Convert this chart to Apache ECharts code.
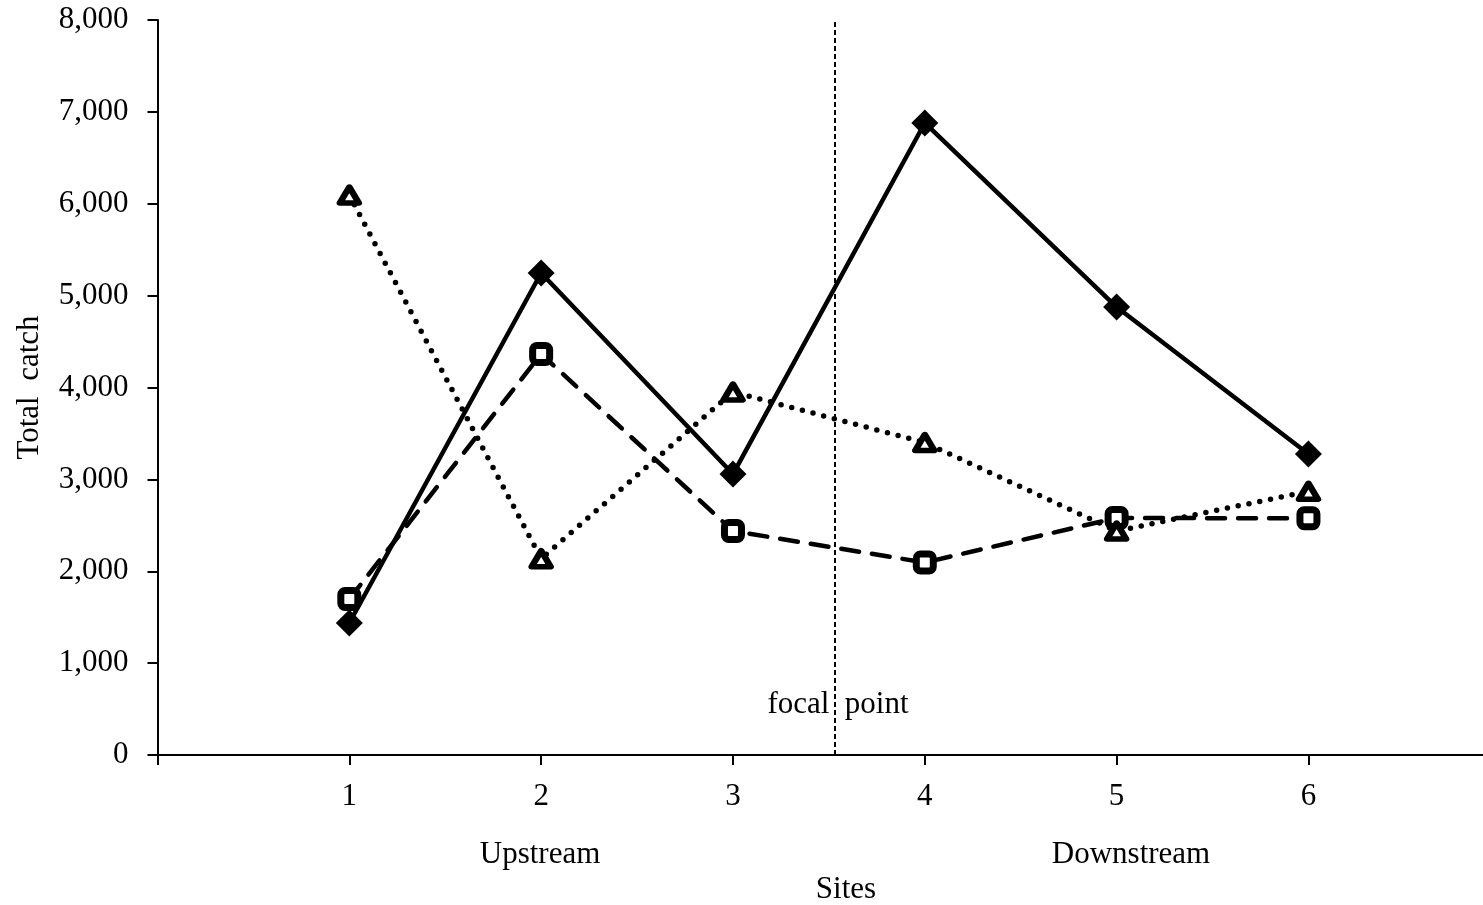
<!DOCTYPE html>
<html>
<head>
<meta charset="utf-8">
<script src="https://cdn.jsdelivr.net/npm/echarts@6/dist/echarts.min.js"></script>
<style>
html,body{margin:0;padding:0;background:#fff;}
#c{width:1483px;height:905px;}
</style>
</head>
<body>
<div id="c"></div>
<script>
const sites = [1, 2, 3, 4, 5, 6];
const diamondValues = [1437, 5246, 3058, 6879, 4876, 3276];
const squareValues = [1698, 4365, 2438, 2095, 2580, 2576];
const triangleValues = [6095, 2137, 3951, 3401, 2438, 2870];
const focalSite = 3.53;
const yTicks = [0, 1000, 2000, 3000, 4000, 5000, 6000, 7000, 8000];

const FONT = 'Liberation Serif';
const pairs = vals => sites.map((s, i) => [s, vals[i]]);

const chart = echarts.init(document.getElementById('c'), null, {renderer: 'canvas'});
chart.setOption({
  backgroundColor: '#fff',
  animation: false,
  grid: {left: 157.5, right: 0, top: 20, bottom: 150, containLabel: false},
  xAxis: {
    type: 'value', min: 0, max: 6.91, interval: 1,
    splitLine: {show: false},
    axisLine: {lineStyle: {color: '#000', width: 2}},
    axisTick: {lineStyle: {color: '#000', width: 2}, length: 10},
    axisLabel: {
      color: '#000', fontFamily: FONT, fontSize: 31, margin: 26,
      showMaxLabel: false,
      formatter: v => (v >= 1 && v <= 6 && Number.isInteger(v)) ? String(v) : ''
    }
  },
  yAxis: {
    type: 'value', min: yTicks[0], max: yTicks[yTicks.length - 1], interval: 1000,
    splitLine: {show: false},
    axisLine: {show: true, lineStyle: {color: '#000', width: 2}},
    axisTick: {show: true, lineStyle: {color: '#000', width: 2}, length: 10},
    axisLabel: {
      color: '#000', fontFamily: FONT, fontSize: 31, margin: 29,
      padding: [6, 0, 0, 0],
      formatter: v => v.toLocaleString('en-US')
    },
    name: 'Total  catch', nameLocation: 'middle', nameRotate: 90, nameGap: 112,
    nameTextStyle: {color: '#000', fontFamily: FONT, fontSize: 31}
  },
  series: [
    {
      type: 'line', data: pairs(diamondValues),
      symbol: 'diamond', symbolSize: 27,
      itemStyle: {color: '#000'},
      lineStyle: {color: '#000', width: 4.5},
      markLine: {
        silent: true, symbol: 'none',
        label: {show: false},
        lineStyle: {color: '#000', width: 2, type: [5, 3]},
        data: [{xAxis: focalSite}]
      }
    },
    {
      type: 'line', data: pairs(squareValues),
      symbol: 'roundRect', symbolSize: 17,
      itemStyle: {color: '#fff', borderColor: '#000', borderWidth: 7},
      lineStyle: {color: '#000', width: 4.5, type: [18, 13], cap: 'round'}
    },
    {
      type: 'line', data: pairs(triangleValues),
      symbol: 'triangle', symbolSize: [19, 16],
      itemStyle: {color: '#fff', borderColor: '#000', borderWidth: 6, borderJoin: 'round'},
      lineStyle: {color: '#000', width: 5.5, type: [0, 11], cap: 'round'}
    }
  ],
  graphic: [
    {type: 'text', x: 838, y: 705, style: {text: 'focal  point', fill: '#000', font: '31px ' + FONT, align: 'center', verticalAlign: 'middle'}},
    {type: 'text', x: 540, y: 855, style: {text: 'Upstream', fill: '#000', font: '31px ' + FONT, align: 'center', verticalAlign: 'middle'}},
    {type: 'text', x: 1131, y: 855, style: {text: 'Downstream', fill: '#000', font: '31px ' + FONT, align: 'center', verticalAlign: 'middle'}},
    {type: 'text', x: 846, y: 890, style: {text: 'Sites', fill: '#000', font: '31px ' + FONT, align: 'center', verticalAlign: 'middle'}}
  ]
});
</script>
</body>
</html>
